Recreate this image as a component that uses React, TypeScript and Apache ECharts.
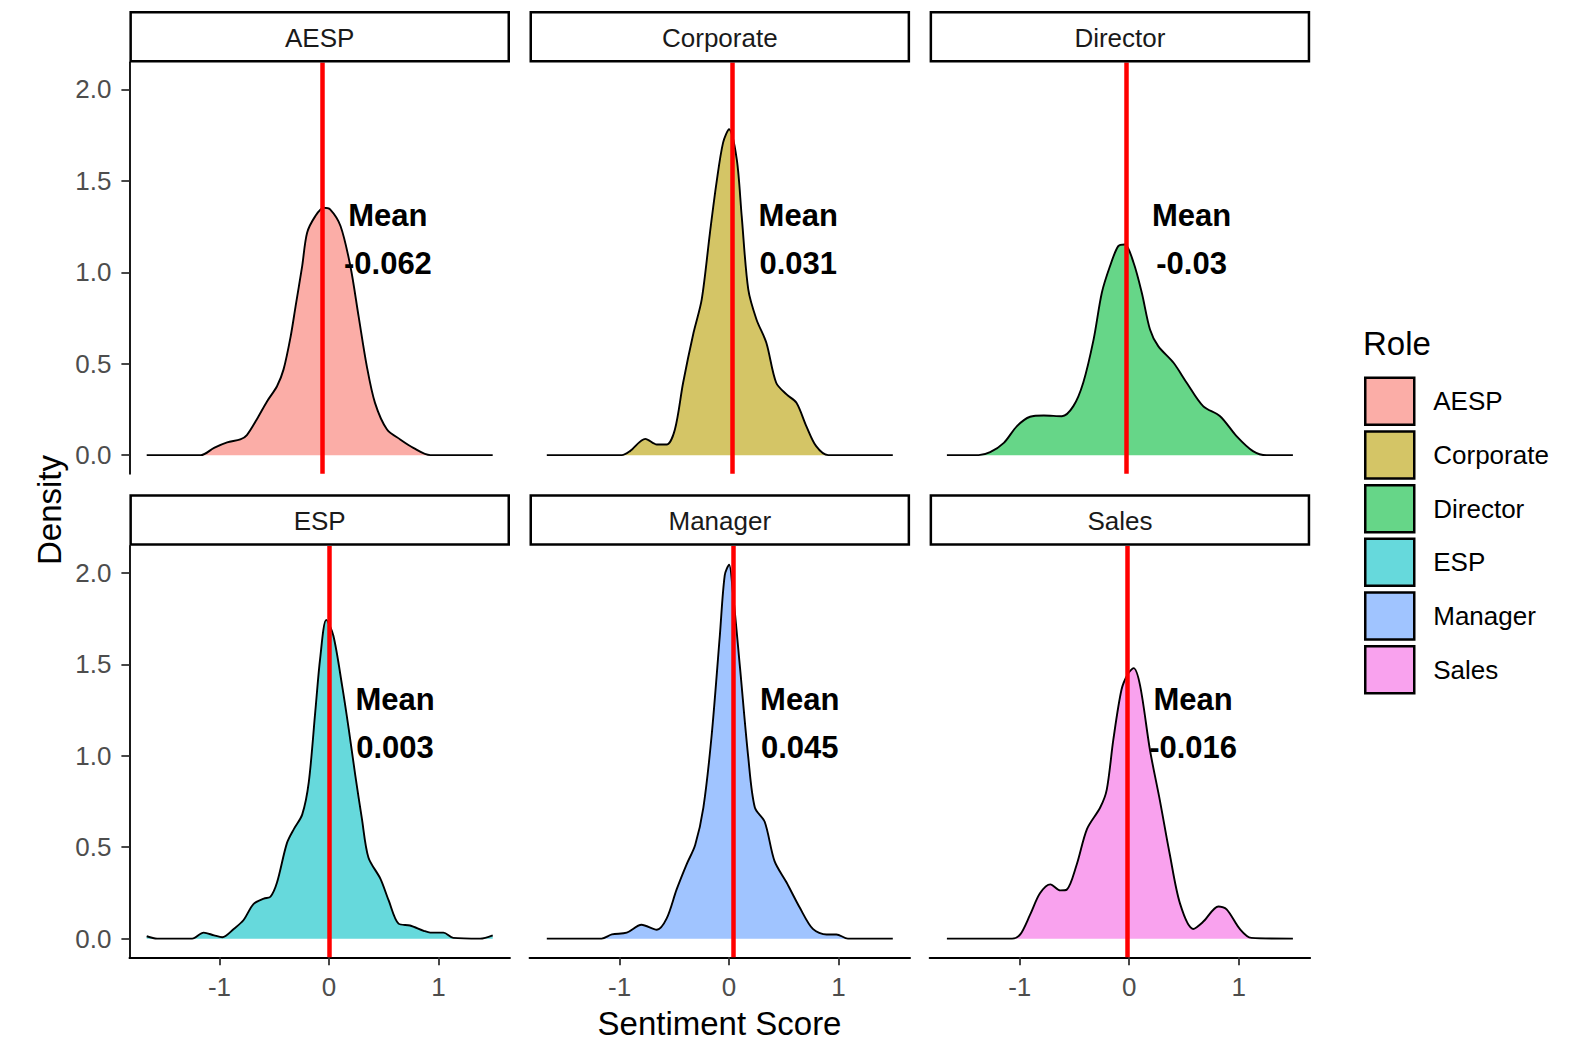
import React, { useEffect, useRef } from "react";
import * as echarts from "echarts";

const roles = ["AESP", "Corporate", "Director", "ESP", "Manager", "Sales"];
const fills = ["#FBADA7", "#D4C566", "#66D688", "#66D9DC", "#A0C4FF", "#F9A2EE"];
const means = [-0.062, 0.031, -0.03, 0.003, 0.045, -0.016];
const xTicks = [-1, 0, 1];
const yTicks = [0, 0.5, 1, 1.5, 2];

const aespDensity = [
  [-1.665, 0], [-1.17, 0], [-1.05, 0.04], [-0.93, 0.07], [-0.81, 0.086], [-0.75, 0.11],
  [-0.66, 0.195], [-0.565, 0.295], [-0.475, 0.377], [-0.415, 0.469], [-0.35, 0.65],
  [-0.305, 0.815], [-0.245, 1.034], [-0.2, 1.216], [-0.125, 1.307], [-0.05, 1.353],
  [0.01, 1.344], [0.105, 1.253], [0.195, 1.034], [0.27, 0.76], [0.345, 0.487],
  [0.42, 0.286], [0.53, 0.14], [0.65, 0.086], [0.77, 0.04], [0.925, 0], [1.495, 0],
];
const corporateDensity = [
  [-1.665, 0], [-0.98, 0], [-0.905, 0.022], [-0.765, 0.089], [-0.66, 0.058], [-0.57, 0.058],
  [-0.495, 0.14], [-0.42, 0.396], [-0.325, 0.669], [-0.25, 0.852], [-0.175, 1.216],
  [-0.115, 1.49], [-0.055, 1.709], [0.0, 1.782], [0.07, 1.617], [0.115, 1.307],
  [0.175, 0.906], [0.25, 0.742], [0.34, 0.615], [0.43, 0.396], [0.525, 0.332],
  [0.615, 0.286], [0.705, 0.159], [0.795, 0.049], [0.905, 0], [1.495, 0],
];
const directorDensity = [
  [-1.665, 0], [-1.375, 0], [-1.27, 0.016], [-1.145, 0.067], [-1.025, 0.159], [-0.905, 0.21],
  [-0.78, 0.217], [-0.615, 0.213], [-0.51, 0.268], [-0.42, 0.396], [-0.325, 0.633],
  [-0.25, 0.888], [-0.175, 1.034], [-0.1, 1.143], [-0.04, 1.152], [0.04, 1.052],
  [0.115, 0.888], [0.19, 0.687], [0.265, 0.596], [0.405, 0.505], [0.525, 0.396],
  [0.675, 0.268], [0.83, 0.213], [0.98, 0.104], [1.13, 0.022], [1.255, 0], [1.495, 0],
];
const espDensity = [
  [-1.665, 0.013], [-1.57, 0], [-1.25, 0], [-1.145, 0.033], [-1.05, 0.018], [-0.975, 0.008],
  [-0.87, 0.053], [-0.78, 0.102], [-0.69, 0.189], [-0.595, 0.219], [-0.535, 0.229],
  [-0.475, 0.307], [-0.385, 0.521], [-0.32, 0.6], [-0.245, 0.678], [-0.185, 0.854],
  [-0.125, 1.244], [-0.08, 1.537], [-0.025, 1.743], [0.04, 1.656], [0.12, 1.382],
  [0.18, 1.147], [0.24, 0.893], [0.3, 0.658], [0.36, 0.444], [0.47, 0.327], [0.545, 0.209],
  [0.635, 0.082], [0.74, 0.072], [0.865, 0.043], [0.925, 0.033], [1.045, 0.033],
  [1.135, 0.004], [1.38, 0], [1.495, 0.018],
];
const managerDensity = [
  [-1.665, 0], [-1.165, 0], [-1.07, 0.023], [-0.935, 0.033], [-0.8, 0.076], [-0.66, 0.049],
  [-0.57, 0.111], [-0.48, 0.268], [-0.39, 0.404], [-0.31, 0.512], [-0.235, 0.717],
  [-0.16, 1.108], [-0.085, 1.655], [-0.04, 1.987], [0.0, 2.045], [0.035, 1.889],
  [0.1, 1.479], [0.175, 0.991], [0.235, 0.717], [0.325, 0.639], [0.415, 0.424],
  [0.525, 0.307], [0.645, 0.17], [0.765, 0.053], [0.89, 0.023], [0.98, 0.023],
  [1.085, 0], [1.495, 0],
];
const salesDensity = [
  [-1.665, 0], [-1.07, 0], [-0.995, 0.023], [-0.905, 0.131], [-0.815, 0.248], [-0.72, 0.297],
  [-0.63, 0.264], [-0.57, 0.268], [-0.48, 0.404], [-0.385, 0.6], [-0.265, 0.717],
  [-0.205, 0.815], [-0.145, 1.088], [-0.07, 1.362], [-0.01, 1.45], [0.04, 1.479],
  [0.1, 1.382], [0.19, 1.03], [0.28, 0.756], [0.37, 0.463], [0.465, 0.19], [0.585, 0.053],
  [0.675, 0.092], [0.815, 0.176], [0.89, 0.16], [1.01, 0.053], [1.115, 0.004], [1.495, 0],
];
const densities = [aespDensity, corporateDensity, directorDensity, espDensity, managerDensity, salesDensity];

const FONT = "'Liberation Sans', Arial, sans-serif";
const colLefts = [129.4, 529.5, 929.6];
const rowTops = [62.5, 546];
const stripTops = [11, 494.3];
const panelW = 380.6;
const panelH = 411.3;
const stripH = 51.5;
const X_MIN = -1.823;
const X_MAX = 1.653;
const Y_MIN = -0.102;
const Y_MAX = 2.147;

function buildOption() {
  const grids: any[] = [];
  const xAxes: any[] = [];
  const yAxes: any[] = [];
  const series: any[] = [];
  const graphics: any[] = [];

  roles.forEach((role, i) => {
    const r = Math.floor(i / 3);
    const c = i % 3;
    const left = colLefts[c];
    const top = rowTops[r];
    grids.push({ left, top, width: panelW, height: panelH, containLabel: false });
    const bottomRow = r === 1;
    const leftCol = c === 0;
    xAxes.push({
      type: "value",
      gridIndex: i,
      min: X_MIN,
      max: X_MAX,
      show: bottomRow,
      splitLine: { show: false },
      axisLine: { show: true, onZero: false, lineStyle: { color: "#000", width: 1.8 } },
      axisTick: { show: true, customValues: xTicks, length: 8, lineStyle: { color: "#333", width: 1.8 } },
      axisLabel: {
        show: true,
        customValues: xTicks,
        margin: 17,
        fontSize: 26,
        color: "#4D4D4D",
        fontFamily: FONT,
        formatter: (v: number) => String(v),
      },
    });
    yAxes.push({
      type: "value",
      gridIndex: i,
      min: Y_MIN,
      max: Y_MAX,
      show: leftCol,
      splitLine: { show: false },
      axisLine: { show: true, onZero: false, lineStyle: { color: "#000", width: 1.8 } },
      axisTick: { show: true, customValues: yTicks, length: 8, lineStyle: { color: "#333", width: 1.8 } },
      axisLabel: {
        show: true,
        customValues: yTicks,
        margin: 18,
        fontSize: 26,
        color: "#4D4D4D",
        fontFamily: FONT,
        formatter: (v: number) => v.toFixed(1),
      },
    });
    series.push({
      type: "line",
      name: role,
      xAxisIndex: i,
      yAxisIndex: i,
      data: densities[i],
      symbol: "none",
      showSymbol: false,
      smooth: 0.3,
      lineStyle: { color: "#000", width: 1.9 },
      itemStyle: { color: fills[i] },
      areaStyle: { color: fills[i], opacity: 1 },
      z: 2,
      markLine: {
        silent: true,
        symbol: ["none", "none"],
        label: { show: false },
        lineStyle: { color: "#FF0000", width: 4.5, type: "solid" },
        emphasis: { disabled: true },
        data: [{ xAxis: means[i] }],
        z: 4,
      },
    });
    series.push({
      type: "scatter",
      name: role + " mean",
      xAxisIndex: i,
      yAxisIndex: i,
      symbolSize: 1,
      itemStyle: { color: "rgba(0,0,0,0)" },
      data: [{ value: [means[i] + 0.6, 1.178], name: String(means[i]) }],
      z: 6,
      label: {
        show: true,
        position: "inside",
        formatter: "Mean\n" + String(means[i]),
        fontSize: 31,
        fontWeight: "bold",
        lineHeight: 48,
        color: "#000000",
        fontFamily: FONT,
        align: "center",
        verticalAlign: "middle",
        textBorderWidth: 0,
        opacity: 1,
      },
    });
    const sy = stripTops[r];
    graphics.push({
      type: "rect",
      shape: { x: left + 1.25, y: sy + 1.25, width: panelW - 2.5, height: stripH - 2.5 },
      style: { fill: "#fff", stroke: "#000", lineWidth: 2.5 },
      z: 10,
    });
    graphics.push({
      type: "text",
      x: left + panelW / 2,
      y: sy + stripH / 2 + 1,
      style: { text: role, fontSize: 26, fill: "#1A1A1A", fontFamily: FONT, align: "center", verticalAlign: "middle" },
      z: 11,
    });
  });

  graphics.push({
    type: "text",
    x: 49,
    y: 510,
    rotation: Math.PI / 2,
    style: { text: "Density", fontSize: 33, fill: "#000", fontFamily: FONT, align: "center", verticalAlign: "middle" },
  });
  graphics.push({
    type: "text",
    x: 719.5,
    y: 1023,
    style: {
      text: "Sentiment Score",
      fontSize: 33,
      lineHeight: 28,
      fill: "#000",
      fontFamily: FONT,
      align: "center",
      verticalAlign: "middle",
    },
  });
  graphics.push({
    type: "text",
    x: 1363,
    y: 343,
    style: { text: "Role", fontSize: 33, fill: "#000", fontFamily: FONT, align: "left", verticalAlign: "middle" },
  });

  return {
    animation: false,
    backgroundColor: "#fff",
    textStyle: { fontFamily: FONT },
    grid: grids,
    xAxis: xAxes,
    yAxis: yAxes,
    series,
    graphic: graphics,
    legend: {
      orient: "vertical",
      left: 1364,
      top: 376.5,
      padding: 0,
      itemWidth: 49,
      itemHeight: 47,
      itemGap: 4.2,
      icon: "rect",
      selectedMode: false,
      data: roles.map((r, i) => ({
        name: r,
        itemStyle: { color: fills[i], borderColor: "#000", borderWidth: 2.5 },
      })),
      textStyle: { fontSize: 26, color: "#000", fontFamily: FONT, padding: [0, 0, 0, 14] },
    },
  };
}

export default function App() {
  const ref = useRef<HTMLDivElement>(null);
  useEffect(() => {
    if (!ref.current) return;
    const chart = echarts.init(ref.current, undefined, { renderer: "svg" });
    chart.setOption(buildOption() as any);
    return () => chart.dispose();
  }, []);
  return (
    <div
      ref={ref}
      style={{ position: "fixed", left: 0, top: 0, width: 1595, height: 1040, background: "#fff" }}
    />
  );
}
